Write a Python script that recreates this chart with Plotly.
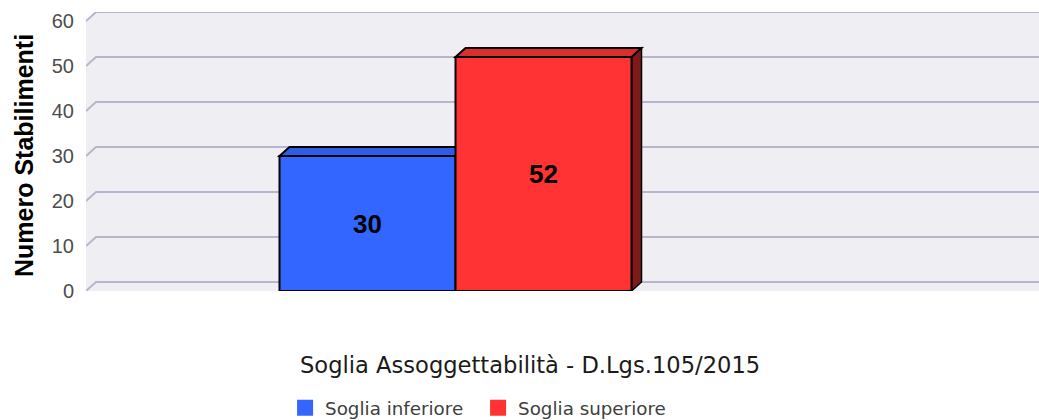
import plotly.graph_objects as go

# ---- data ----
categories = ["Soglia Assoggettabilità - D.Lgs.105/2015"]
series_names = ["Soglia inferiore", "Soglia superiore"]
series_values = [[30], [52]]
y_ticks = [0, 10, 20, 30, 40, 50, 60]
y_title = "Numero Stabilimenti"

# ---- style ----
front_colors = ["#3366FF", "#FF3333"]
top_colors = ["#2E5CE6", "#DC2E2E"]
side_colors = ["#2347B2", "#7E1A1A"]
wall_color = "#EEEEF3"
grid_color = "#B6B6CC"

bar_width = 0.4
offsets = [-0.4, 0.0]
x_range = [-0.8398, 1.3261]
y_range = [0, 62]
dx = 10 / 440.0      # 3D depth, x units
dy = 2.0             # 3D depth, y units

fig = go.Figure()
x_pos = list(range(len(categories)))

for name, vals, col, off in zip(series_names, series_values, front_colors, offsets):
    fig.add_trace(go.Bar(
        x=x_pos, y=vals, name=name, width=bar_width, offset=off,
        marker=dict(color=col, line=dict(color="black", width=2)),
        text=vals, texttemplate="%{y}", textposition="inside",
        insidetextanchor="middle", textangle=0,
        textfont=dict(family="Liberation Sans", size=26, color="black", weight="bold"),
        showlegend=False, hoverinfo="skip",
    ))
    # legend proxies
    fig.add_trace(go.Scatter(
        x=[None], y=[None], mode="markers", name=name,
        marker=dict(symbol="square", size=18, color=col, line=dict(width=0)),
        showlegend=True,
    ))

shapes = []
xl, xr = x_range
# back + left wall
shapes.append(dict(
    type="path", xref="x", yref="y", layer="below",
    path=f"M {xl},{y_ticks[0]} L {xl},{y_ticks[-1]} L {xl+dx},{y_ticks[-1]+dy} L {xr},{y_ticks[-1]+dy} L {xr},{y_ticks[0]} Z",
    fillcolor=wall_color, line=dict(width=0),
))
# back gridlines
for v in y_ticks:
    shapes.append(dict(
        type="path", xref="x", yref="y", layer="below",
        path=f"M {xl},{v} L {xl+dx},{v+dy} L {xr},{v+dy}",
        line=dict(color=grid_color, width=2),
    ))
# 3D side and top faces of bars
for i, (vals, off) in enumerate(zip(series_values, offsets)):
    for xc, v in zip(x_pos, vals):
        x0 = xc + off
        x1 = x0 + bar_width
        shapes.append(dict(
            type="path", xref="x", yref="y", layer="below",
            path=f"M {x1},{0} L {x1+dx},{dy} L {x1+dx},{v+dy} L {x1},{v} Z",
            fillcolor=side_colors[i], line=dict(color="black", width=1.5),
        ))
        shapes.append(dict(
            type="path", xref="x", yref="y", layer="below",
            path=f"M {x0},{v} L {x0+dx},{v+dy} L {x1+dx},{v+dy} L {x1},{v} Z",
            fillcolor=top_colors[i], line=dict(color="black", width=2),
        ))

annotations = [
    dict(text=categories[0], xref="paper", yref="paper", x=0.4659, y=-0.2652,
         xanchor="center", yanchor="middle", showarrow=False,
         font=dict(family="DejaVu Sans", size=22.6, color="#1a1a1a")),
    dict(text=f"<b>{y_title}</b>", xref="paper", yref="y", x=0, y=30,
         xshift=-62, xanchor="center", yanchor="middle", textangle=-90,
         showarrow=False,
         font=dict(family="Liberation Sans", size=25, color="black")),
]

fig.update_layout(
    width=1039, height=420,
    margin=dict(l=86, r=0, t=12, b=129, autoexpand=False),
    paper_bgcolor="white", plot_bgcolor="white",
    barmode="overlay",
    shapes=shapes, annotations=annotations,
    xaxis=dict(range=x_range, showgrid=False, zeroline=False, showline=False,
               showticklabels=False, ticks="", fixedrange=True),
    yaxis=dict(range=y_range, tickvals=y_ticks, showgrid=False, zeroline=False,
               showline=False, ticks="", ticklabelstandoff=11, fixedrange=True,
               tickfont=dict(family="Liberation Sans", size=20, color="#4d4d4d")),
    legend=dict(orientation="h", x=0.2089, xanchor="left", y=-0.419, yanchor="middle",
                font=dict(family="DejaVu Sans", size=18.3, color="#404040"),
                entrywidth=148, bgcolor="rgba(0,0,0,0)"),
    showlegend=True,
)

fig.write_html(
    "out.html",
    config={"displayModeBar": False},
    post_script="document.body.style.margin='0';document.body.style.overflow='hidden';",
)
